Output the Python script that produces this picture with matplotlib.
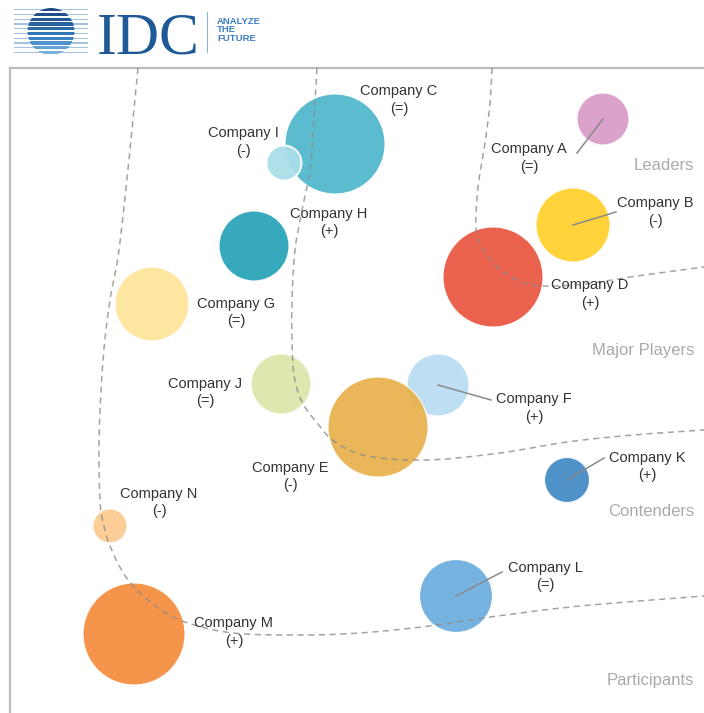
import matplotlib.pyplot as plt
import numpy as np
from matplotlib.patches import Circle, Rectangle

plt.rcParams["font.family"] = ["Liberation Sans", "DejaVu Sans"]

# vendors on the map (position in map units, bubble radius, momentum)
companies = ["Company A", "Company B", "Company C", "Company D", "Company E",
             "Company F", "Company G", "Company H", "Company I", "Company J",
             "Company K", "Company L", "Company M", "Company N"]
x_pos = [603, 573, 335, 493, 378, 438, 152, 254, 284, 281, 567, 456, 134, 110]
y_pos = [119, 225, 144, 277, 427, 385, 304, 246, 163, 384, 480, 596, 634, 526]
radius = [26, 37, 50, 50, 50, 31, 37, 35, 17.5, 30, 22.5, 36.5, 51, 17]
trend = ["(=)", "(-)", "(=)", "(+)", "(-)", "(+)", "(=)", "(+)", "(-)",
         "(=)", "(+)", "(=)", "(+)", "(-)"]
colors = ["#d99cc7", "#ffd02a", "#4eb6cc", "#e9553f", "#e8b24c", "#b9ddf3",
          "#fde699", "#28a3b8", "#a9dee8", "#dae7a9", "#4289c5", "#6caedf",
          "#f58c3d", "#fdca8f"]

# label placement (name line centre)
label_xy = {
    "Company A": (529, 149), "Company B": (655, 203), "Company C": (399, 91),
    "Company D": (590, 285), "Company E": (290, 468), "Company F": (534, 399),
    "Company G": (236, 304), "Company H": (329, 214), "Company I": (243, 133),
    "Company J": (205, 384), "Company K": (647, 458), "Company L": (545, 568),
    "Company M": (234, 623), "Company N": (159, 494),
}
leader_end = {
    "Company A": (577, 153), "Company B": (616, 212), "Company F": (491, 400),
    "Company K": (604, 458), "Company L": (502, 572),
}
on_top = {"Company I", "Company E"}

# segment boundaries
segments = ["Leaders", "Major Players", "Contenders", "Participants"]
segment_y = [166, 351, 512, 681]
boundaries = [
    [(492, 68), (490, 103), (485, 143), (478, 187), (476, 227), (482, 247),
     (497, 267), (517, 280), (540, 286), (585, 284), (630, 277), (704, 267)],
    [(317, 68), (314, 120), (310, 170), (302, 210), (295, 250), (292, 300),
     (292, 340), (294, 375), (302, 402), (318, 424), (335, 442), (367, 456),
     (427, 460), (500, 453), (567, 442), (633, 435), (704, 430)],
    [(138, 68), (130, 150), (119, 250), (110, 300), (103, 360), (99, 440),
     (100, 500), (103, 522), (110, 546), (128, 580), (157, 607), (185, 622),
     (233, 633), (300, 635), (360, 633), (430, 626), (490, 617), (580, 606),
     (704, 596)],
]


def smooth(points, n=20):
    pts = np.asarray(points, dtype=float)
    pts = np.vstack([pts[0], pts, pts[-1]])
    out = []
    for i in range(1, len(pts) - 2):
        p0, p1, p2, p3 = pts[i - 1], pts[i], pts[i + 1], pts[i + 2]
        t = np.linspace(0, 1, n, endpoint=False)[:, None]
        out.append(0.5 * ((2 * p1) + (-p0 + p2) * t
                          + (2 * p0 - 5 * p1 + 4 * p2 - p3) * t ** 2
                          + (-p0 + 3 * p1 - 3 * p2 + p3) * t ** 3))
    out.append(pts[-2][None, :])
    return np.vstack(out)


fig = plt.figure(figsize=(7.04, 7.13), dpi=100)

# map area
ax = fig.add_axes([10 / 704, 0, 694 / 704, 645 / 713])
ax.set_xlim(10, 704)
ax.set_ylim(713, 68)
ax.set_xticks([])
ax.set_yticks([])
for side in ("right", "bottom"):
    ax.spines[side].set_visible(False)
for side in ("top", "left"):
    ax.spines[side].set_color("#bdbdbd")
    ax.spines[side].set_linewidth(1.6)

for pts in boundaries:
    c = smooth(pts)
    ax.plot(c[:, 0], c[:, 1], color="#8c8c8c", lw=1.1, ls=(0, (4, 3)),
            alpha=0.8, zorder=4)

for name, x, y, r, col in zip(companies, x_pos, y_pos, radius, colors):
    z = 3 if name in on_top else 2
    lw = 1.4 if name == "Company I" else 0.8
    ax.add_patch(Circle((x, y), r, facecolor=col, edgecolor="white",
                        lw=lw, alpha=0.93, zorder=z))

for name, x, y in zip(companies, x_pos, y_pos):
    if name in leader_end:
        ex, ey = leader_end[name]
        ax.plot([x, ex], [y, ey], color="#8a8a8a", lw=1.1, zorder=5)

for name, sign in zip(companies, trend):
    lx, ly = label_xy[name]
    ax.text(lx, ly, name, ha="center", va="center", fontsize=10.5,
            color="#333333", zorder=6)
    ax.text(lx, ly + 17.5, sign, ha="center", va="center", fontsize=10.5,
            color="#333333", zorder=6)

for seg, sy in zip(segments, segment_y):
    ax.text(694, sy, seg, ha="right", va="center", fontsize=12,
            color="#aaaaaa")

# IDC logo
lax = fig.add_axes([0, 1 - 62 / 713, 300 / 704, 62 / 713])
lax.set_xlim(0, 300)
lax.set_ylim(62, 0)
lax.axis("off")
disk = Circle((51, 31.5), 23.5, transform=lax.transData)
band_cols = ["#1d4a86", "#1f4f8e", "#235896", "#27619f", "#2c6aa9",
             "#3276b6", "#3d84c2", "#4f93cc", "#64a3d6", "#79b1de"]
for i, bc in enumerate(band_cols):
    y0 = 8 + i * 4.75
    lax.add_patch(Rectangle((14, y0 + 1.2), 74, 1.1, color="#a7c2df", lw=0))
    band = Rectangle((20, y0), 70, 3.3, color=bc, lw=0)
    lax.add_patch(band)
    band.set_clip_path(disk)
lax.text(97, 53, "IDC", family="Liberation Serif", fontsize=43,
         color="#1f5a97", va="baseline", ha="left")
lax.plot([207, 207], [12, 52], color="#8fb2d8", lw=0.8)
lax.text(217, 17, "ANALYZE\nTHE\nFUTURE", fontsize=6.8, weight="bold",
         color="#3c7ec4", va="top", ha="left", linespacing=0.92)

fig.savefig("out.png", dpi=100)
